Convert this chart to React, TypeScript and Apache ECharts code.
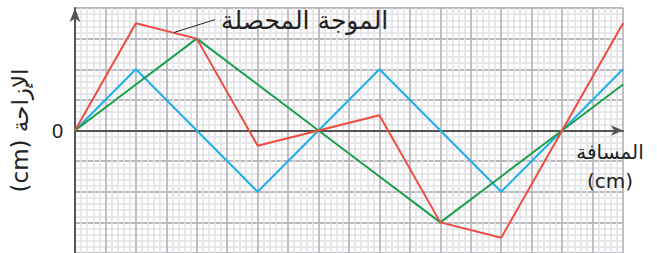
import React, { useEffect, useRef } from "react";
import * as echarts from "echarts";

const xs = [0, 2, 4, 6, 8, 10, 12, 14, 16, 18];
const blueWave = [0, 2, 0, -2, 0, 2, 0, -2, 0, 2];
const greenWave = [0, 1.5, 3, 1.5, 0, -1.5, -3, -1.5, 0, 1.5];
const resultWave = [0, 3.5, 3, -0.5, 0, 0.5, -3, -3.5, 0, 3.5];

const yAxisTitle = "(cm) الإزاحة";
const xAxisTitle = "المسافة\n(cm)";
const resultLabel = "الموجة المحصلة";

const pairs = (ys: number[]) => xs.map((x, i) => [x, ys[i]]);

const ARABIC_FONT = "'DejaVu Sans', 'Noto Sans', sans-serif";

export default function App() {
  const ref = useRef<HTMLDivElement>(null);
  useEffect(() => {
    if (!ref.current) return;
    const chart = echarts.init(ref.current, null, { renderer: "svg" });
    const axisCommon = {
      type: "value" as const,
      interval: 1,
      minorTick: { show: false, splitNumber: 5 },
      minorSplitLine: { show: true, lineStyle: { color: "#e2e2e4", width: 1.5 } },
      splitLine: { show: true, lineStyle: { color: "#b9b9be", width: 1.8 } },
      axisTick: { show: false },
    };
    chart.setOption({
      animation: false,
      backgroundColor: "#ffffff",
      grid: { left: 74, right: 34, top: 8, bottom: 0, containLabel: false },
      xAxis: {
        ...axisCommon,
        min: 0,
        max: 18,
        axisLabel: { show: false },
        axisLine: {
          show: true,
          onZero: true,
          symbol: ["none", "arrow"],
          symbolSize: [8, 12],
          lineStyle: { color: "#555", width: 2 },
        },
      },
      yAxis: {
        ...axisCommon,
        min: -4,
        max: 4,
        axisLabel: {
          show: true,
          formatter: (v: number) => (v === 0 ? "0" : ""),
          fontSize: 20,
          color: "#222",
          margin: 12,
          fontFamily: "'Liberation Sans', Arial, sans-serif",
        },
        axisLine: {
          show: true,
          onZero: false,
          symbol: ["none", "arrow"],
          symbolSize: [8, 14],
          lineStyle: { color: "#555", width: 2 },
        },
        name: yAxisTitle,
        nameLocation: "middle",
        nameRotate: 90,
        nameGap: 44,
        nameTextStyle: { fontSize: 23, color: "#222", fontFamily: ARABIC_FONT },
      },
      series: [
        {
          type: "line",
          data: pairs(blueWave),
          symbol: "none",
          lineStyle: { color: "#1cb0e6", width: 2 },
          z: 3,
        },
        {
          type: "line",
          data: pairs(greenWave),
          symbol: "none",
          lineStyle: { color: "#1a9e4a", width: 2 },
          z: 4,
        },
        {
          type: "line",
          data: pairs(resultWave),
          symbol: "none",
          lineStyle: { color: "#ef4b43", width: 2 },
          z: 5,
        },
      ],
    });
    const a = chart.convertToPixel({ gridIndex: 0 }, [3.25, 3.2]) as number[];
    const b = chart.convertToPixel({ gridIndex: 0 }, [4.6, 3.62]) as number[];
    chart.setOption({
      graphic: [
        {
          type: "line",
          shape: { x1: a[0], y1: a[1], x2: b[0], y2: b[1] },
          style: { stroke: "#222", lineWidth: 1 },
          z: 10,
        },
        {
          type: "text",
          x: b[0] + 6,
          y: b[1] + 1,
          style: {
            text: resultLabel,
            font: `25px ${ARABIC_FONT}`,
            fill: "#222",
            verticalAlign: "middle",
            align: "left",
          },
          z: 10,
        },
        {
          type: "text",
          x: 610,
          y: 137,
          style: {
            text: xAxisTitle,
            font: `20px ${ARABIC_FONT}`,
            fill: "#222",
            align: "center",
            verticalAlign: "top",
            lineHeight: 29,
          },
          z: 10,
        },
      ],
    });
    return () => chart.dispose();
  }, []);
  return <div ref={ref} style={{ width: 657, height: 253, position: "absolute", left: 0, top: 0 }} />;
}
